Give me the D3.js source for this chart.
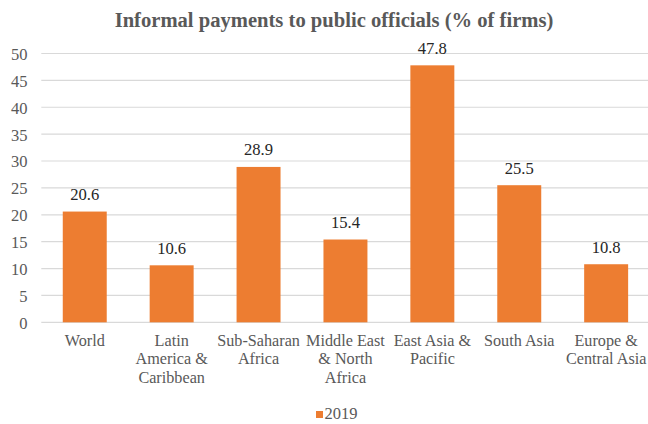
<!DOCTYPE html>
<html>
<head>
<meta charset="utf-8">
<script src="https://cdn.jsdelivr.net/npm/d3@7"></script>
<style>
  html, body { margin: 0; padding: 0; background: #fff; }
  svg { display: block; }
  svg text { font-family: "Liberation Serif", "Times New Roman", Times, "DejaVu Serif", serif; }
</style>
</head>
<body>
<svg id="chart" width="648" height="424"></svg>
<script>
const title = "Informal payments to public officials (% of firms)";
const categories = ["World", "Latin America & Caribbean", "Sub-Saharan Africa", "Middle East & North Africa", "East Asia & Pacific", "South Asia", "Europe & Central Asia"];
const values2019 = [20.6, 10.6, 28.9, 15.4, 47.8, 25.5, 10.8];
const seriesName = "2019";
const yTicks = [0, 5, 10, 15, 20, 25, 30, 35, 40, 45, 50];

(function () {
const svg = d3.select("#chart");
const mLeft = 41.3, mRight = 649.6, mTop = 53.5, mBottom = 322.3;
const orange = "#ED7D31", grid = "#D9D9D9", textGray = "#595959";

const x = d3.scaleBand().domain(categories).range([mLeft, mRight]).paddingInner(0.494).paddingOuter(0.247);
const y = d3.scaleLinear().domain([0, 50]).range([mBottom, mTop]);

svg.append("g").selectAll("line").data(yTicks).join("line")
  .attr("x1", mLeft).attr("x2", 648)
  .attr("y1", d => y(d)).attr("y2", d => y(d))
  .attr("stroke", grid).attr("stroke-width", 1.2);

const yAxis = d3.axisLeft(y).tickValues(yTicks).tickSize(0).tickPadding(0);
const ya = svg.append("g").attr("transform", `translate(27.5,0)`).call(yAxis);
ya.select(".domain").remove();
ya.attr("font-family", null).attr("font-size", null);
ya.selectAll("text").style("font-size", "16.5px")
  .attr("fill", textGray).attr("dy", "0.36em");

svg.append("g").selectAll("rect").data(categories).join("rect")
  .attr("x", d => x(d)).attr("width", x.bandwidth())
  .attr("y", (d, i) => y(values2019[i]))
  .attr("height", (d, i) => y(0) - y(values2019[i]))
  .attr("fill", orange);

svg.append("g").selectAll("text").data(categories).join("text")
  .attr("x", d => x(d) + x.bandwidth() / 2)
  .attr("y", (d, i) => y(values2019[i]) - 11.5)
  .attr("text-anchor", "middle").style("font-size", "16.6px").attr("fill", "#262626")
  .text((d, i) => values2019[i].toFixed(1));

const xa = svg.append("g").attr("transform", `translate(0,${mBottom})`)
  .call(d3.axisBottom(x).tickSize(0).tickPadding(0));
xa.select(".domain").remove();
xa.attr("font-family", null).attr("font-size", null);
xa.selectAll("text").each(function(d) {
  const t = d3.select(this);
  t.text(null).style("font-size", "16.2px").attr("fill", textGray).attr("y", 0).attr("dy", null);
  const words = d.split(" ");
  const maxW = x.step() - 0.5;
  let lines = [], cur = [];
  const probe = t.append("tspan");
  words.forEach(w => {
    const test = cur.concat([w]).join(" ");
    probe.text(test);
    if (probe.node().getComputedTextLength() > maxW && cur.length) {
      lines.push(cur.join(" ")); cur = [w];
    } else cur.push(w);
  });
  lines.push(cur.join(" "));
  probe.remove();
  lines.forEach((ln, i) => {
    t.append("tspan").attr("x", 0).attr("y", 23.4 + i * 18.8).text(ln);
  });
});

svg.append("text").attr("x", 334).attr("y", 26.5).attr("text-anchor", "middle")
  .attr("font-weight", "bold").style("font-size", "20.6px")
  .attr("fill", textGray).text(title);

const lg = svg.append("g").attr("transform", "translate(316,411)");
lg.append("rect").attr("width", 7).attr("height", 7).attr("fill", orange);
lg.append("text").attr("x", 8.5).attr("y", 7.5).style("font-size", "16.5px").attr("fill", textGray).text(seriesName);
})();
</script>
</body>
</html>
